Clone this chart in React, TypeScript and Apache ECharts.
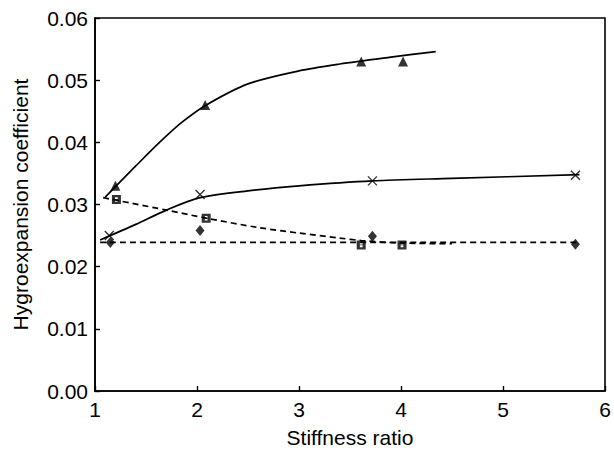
import React, { useEffect, useRef } from "react";
import * as echarts from "echarts";

// Measured points
const triX = [1.2, 2.08, 3.61, 4.02];
const triY = [0.033, 0.046, 0.053, 0.053];
const crossX = [1.14, 2.03, 3.72, 5.71];
const crossY = [0.025, 0.0316, 0.0338, 0.0347];
const sqX = [1.21, 2.09, 3.61, 4.01];
const sqY = [0.0308, 0.0278, 0.0235, 0.0235];
const diaX = [1.15, 2.03, 3.72, 5.71];
const diaY = [0.0239, 0.0258, 0.0249, 0.0236];

// Fitted curves
const triFitX = [1.1, 1.4, 1.64, 1.85, 2.08, 2.5, 3.0, 3.4, 3.9, 4.34];
const triFitY = [0.0312, 0.0362, 0.0401, 0.0432, 0.0459, 0.0494, 0.0515, 0.0526, 0.0537, 0.0546];
const crossFitX = [1.05, 1.4, 1.7, 2.03, 2.5, 3.0, 3.72, 4.5, 5.75];
const crossFitY = [0.0243, 0.0268, 0.0291, 0.0311, 0.0322, 0.033, 0.0338, 0.0342, 0.0348];
const sqFitX = [1.08, 1.7, 2.09, 2.6, 3.0, 3.4, 3.61, 4.0, 4.5];
const sqFitY = [0.0311, 0.0291, 0.0278, 0.0263, 0.0254, 0.0246, 0.0242, 0.0238, 0.0237];
const diaFitX = [1.05, 5.75];
const diaFitY = [0.0239, 0.0239];

const xTicks = [1, 2, 3, 4, 5, 6];
const yTicks = [0, 0.01, 0.02, 0.03, 0.04, 0.05, 0.06];

const zip = (xs: number[], ys: number[]) => xs.map((x, i) => [x, ys[i]]);

const FONT = "'Liberation Sans', Arial, Helvetica, sans-serif";

export default function App() {
  const ref = useRef<HTMLDivElement>(null);
  useEffect(() => {
    if (!ref.current) return;
    const chart = echarts.init(ref.current, undefined, { renderer: "svg" });
    const squareSym =
      "path://M0,0L10,0L10,10L0,10Z M3.5,2.5L3.5,4.5L6.5,4.5L6.5,2.5Z M3.5,5.5L3.5,7.5L6.5,7.5L6.5,5.5Z";
    const crossSym = "path://M0,0L10,10M10,0L0,10";
    const fitLine = (xs: number[], ys: number[], dashed: boolean) => ({
      type: "line",
      data: zip(xs, ys),
      smooth: 0.3,
      showSymbol: false,
      symbol: "none",
      lineStyle: {
        color: "#000",
        width: 1.7,
        type: dashed ? [6, 4] : "solid",
      },
      z: 2,
    });
    chart.setOption({
      animation: false,
      backgroundColor: "#fff",
      grid: {
        left: 95,
        right: 9,
        top: 18,
        bottom: 57,
        show: true,
        borderColor: "#000",
        borderWidth: 1.6,
        backgroundColor: "transparent",
      },
      xAxis: {
        type: "value",
        min: 1,
        max: 6,
        interval: 1,
        name: "Stiffness ratio",
        nameLocation: "middle",
        nameGap: 36,
        nameTextStyle: { fontFamily: FONT, fontSize: 21, color: "#000" },
        axisLine: { lineStyle: { color: "#000", width: 1.6 } },
        axisTick: { inside: true, length: 5, lineStyle: { color: "#000", width: 1.4 } },
        axisLabel: {
          fontFamily: FONT,
          fontSize: 21,
          color: "#000",
          margin: 8,
          formatter: (v: number) => (xTicks.includes(v) ? String(v) : ""),
        },
        splitLine: { show: false },
      },
      yAxis: {
        type: "value",
        min: 0,
        max: 0.06,
        interval: 0.01,
        name: "Hygroexpansion coefficient",
        nameLocation: "middle",
        nameGap: 64,
        nameTextStyle: { fontFamily: FONT, fontSize: 21, color: "#000" },
        axisLine: { lineStyle: { color: "#000", width: 1.6 } },
        axisTick: { inside: true, length: 5, lineStyle: { color: "#000", width: 1.4 } },
        axisLabel: {
          fontFamily: FONT,
          fontSize: 21,
          color: "#000",
          margin: 7,
          formatter: (v: number) => {
            const t = yTicks.find((y) => Math.abs(y - v) < 1e-9);
            return t === undefined ? "" : t.toFixed(2);
          },
        },
        splitLine: { show: false },
      },
      series: [
        fitLine(triFitX, triFitY, false),
        fitLine(crossFitX, crossFitY, false),
        fitLine(sqFitX, sqFitY, true),
        fitLine(diaFitX, diaFitY, true),
        {
          type: "scatter",
          data: zip(triX, triY),
          symbol: "triangle",
          symbolSize: [10, 10],
          itemStyle: { color: "#000" },
          z: 3,
        },
        {
          type: "scatter",
          data: zip(crossX, crossY),
          symbol: crossSym,
          symbolSize: 9,
          itemStyle: { color: "transparent", borderColor: "#000", borderWidth: 1.4 },
          z: 3,
        },
        {
          type: "scatter",
          data: zip(sqX, sqY),
          symbol: squareSym,
          symbolSize: 9,
          itemStyle: { color: "#000" },
          z: 3,
        },
        {
          type: "scatter",
          data: zip(diaX, diaY),
          symbol: "diamond",
          symbolSize: [9, 11],
          itemStyle: { color: "#000" },
          z: 3,
        },
      ],
    });
    return () => chart.dispose();
  }, []);
  return (
    <div
      ref={ref}
      style={{ position: "fixed", left: 0, top: 0, width: 614, height: 453, background: "#fff" }}
    />
  );
}
